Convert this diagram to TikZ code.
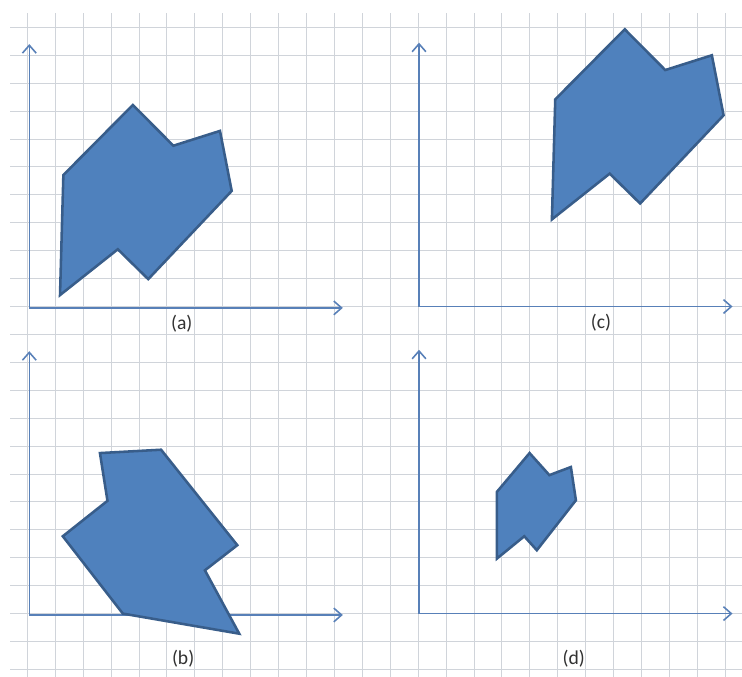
\documentclass[tikz,border=0pt]{standalone}
\usepackage{fontspec}
\setmainfont{Carlito}
\usepackage{tikz}
\usepackage{xcolor}
\usetikzlibrary{positioning,arrows.meta}
\definecolor{shapeblue}{RGB}{79,129,189}
\definecolor{shapeedge}{RGB}{56,93,138}
\definecolor{axisblue}{RGB}{88,128,184}
\definecolor{gridgrey}{RGB}{208,212,218}
\definecolor{labelgrey}{RGB}{50,50,50}

\begin{document}
\begin{tikzpicture}[
    x=0.5cm, y=0.5cm,
    gridline/.style={draw=gridgrey, line width=0.5pt},
    axis/.style={{Straight Barb[length=4pt,width=7pt]}-{Straight Barb[length=4pt,width=7pt]}, draw=axisblue, line width=0.8pt},
    blob/.style={fill=shapeblue, draw=shapeedge, line width=1.3pt, line join=miter},
    caption/.style={font=\fontsize{10}{11}\selectfont, text=labelgrey, inner sep=1pt}
]

\fill[white] (0.02,-0.27) rectangle (26.6,23.98);
\useasboundingbox (0.02,-0.27) rectangle (26.6,23.98);

% graph paper
\foreach \i in {1,...,26}
    \draw[gridline] (\i,-0.27) -- (\i,23.5);
\foreach \j in {0,...,23}
    \draw[gridline] (0.38,\j) -- (26.6,\j);

% axes of the four panels
\foreach \nm/\ox/\oy in {a/1.07/12.95, c/15.03/13, b/1.07/1.95, d/15.03/2} {
    \coordinate (o\nm) at (\ox,\oy);
    \coordinate (y\nm) at (\ox,\oy+9.45);
    \coordinate (x\nm) at (\ox+11.23,\oy);
    \draw[axis] (y\nm) -- (o\nm) -- (x\nm);
}

% (a) and its translate (c)
\foreach \s in {(0,0), (17.62,2.71)}
    \draw[blob, shift={\s}] (2.29,17.71) -- (4.78,20.22) -- (6.23,18.76) -- (7.90,19.29)
        -- (8.32,17.14) -- (5.33,13.98) -- (4.24,15.05) -- (2.17,13.41) -- cycle;

% (b)
\draw[blob] (3.60,7.75) -- (5.79,7.87) -- (8.52,4.45) -- (7.36,3.55)
    -- (8.59,1.28) -- (4.42,2.00) -- (2.27,4.77) -- (3.87,6.04) -- cycle;

% (d)
\draw[blob] (17.82,6.36) -- (18.99,7.75) -- (19.70,6.96) -- (20.47,7.25)
    -- (20.65,6.06) -- (19.25,4.27) -- (18.80,4.77) -- (17.82,3.97) -- cycle;

\node[caption] (capa) at (6.53,12.40) {(a)};
\node[caption] (capc) at (21.55,12.41) {(c)};
\node[caption] (capb) at (6.58,0.40) {(b)};
\node[caption] (capd) at (20.57,0.40) {(d)};

\end{tikzpicture}
\end{document}
